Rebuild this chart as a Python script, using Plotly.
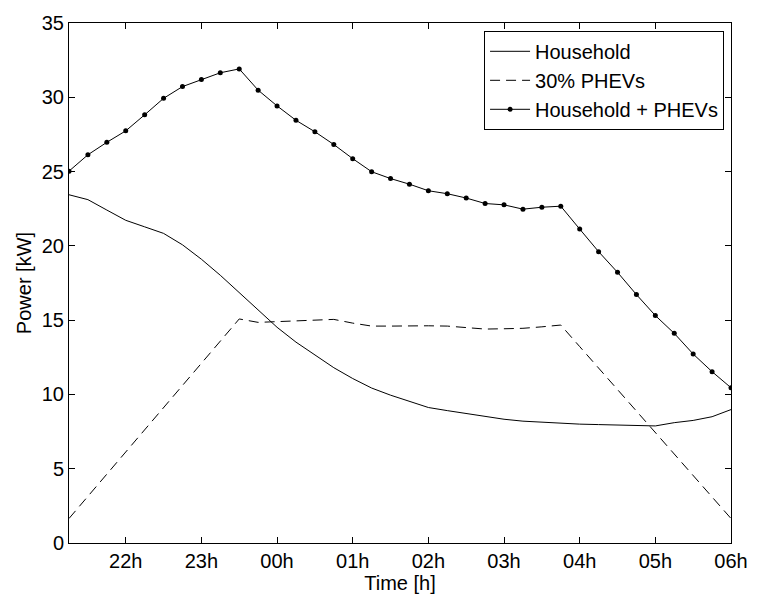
import plotly.graph_objects as go
from datetime import datetime

# 15-minute time stamps from 21:15 to 06:00
times = ["21:15", "21:30", "21:45", "22:00", "22:15", "22:30", "22:45", "23:00",
         "23:15", "23:30", "23:45", "00:00", "00:15", "00:30", "00:45", "01:00",
         "01:15", "01:30", "01:45", "02:00", "02:15", "02:30", "02:45", "03:00",
         "03:15", "03:30", "03:45", "04:00", "04:15", "04:30", "04:45", "05:00",
         "05:15", "05:30", "05:45", "06:00"]

household = [23.44, 23.11, 22.41, 21.72, 21.28, 20.84, 20.07, 19.10, 18.02, 16.85,
             15.63, 14.52, 13.52, 12.68, 11.80, 11.07, 10.43, 9.95, 9.53, 9.12,
             8.91, 8.72, 8.50, 8.33, 8.20, 8.12, 8.05, 8.00, 7.97, 7.94,
             7.90, 7.88, 8.10, 8.25, 8.50, 8.98]

phev = [1.65, 3.14, 4.63, 6.13, 7.62, 9.11, 10.60, 12.10, 13.59, 15.08,
        14.85, 14.90, 14.95, 15.00, 15.05, 14.80, 14.60, 14.60, 14.62, 14.62,
        14.60, 14.50, 14.40, 14.42, 14.45, 14.55, 14.67, 13.22, 11.78, 10.33,
        8.88, 7.44, 5.99, 4.54, 3.09, 1.65]

total = [25.03, 26.13, 26.97, 27.74, 28.82, 29.93, 30.72, 31.20, 31.65, 31.91,
         30.48, 29.42, 28.45, 27.68, 26.82, 25.87, 24.99, 24.53, 24.15, 23.71,
         23.51, 23.22, 22.85, 22.76, 22.47, 22.60, 22.67, 21.13, 19.61, 18.22,
         16.72, 15.31, 14.11, 12.72, 11.53, 10.45]

tick_hours = [22, 23, 0, 1, 2, 3, 4, 5, 6]
tick_labels = ["22h", "23h", "00h", "01h", "02h", "03h", "04h", "05h", "06h"]


def to_dt(s):
    h, m = map(int, s.split(":"))
    day = 1 if h >= 12 else 2
    return datetime(2000, 1, day, h, m)


x = [to_dt(t) for t in times]
tickvals = [datetime(2000, 1, 1 if h >= 12 else 2, h, 0) for h in tick_hours]

FONT = "Liberation Sans, Arial, sans-serif"
FS = 20

fig = go.Figure()
fig.add_trace(go.Scatter(x=x, y=household, mode="lines", name="Household",
                         line=dict(color="black", width=1)))
fig.add_trace(go.Scatter(x=x, y=phev, mode="lines", name="30% PHEVs",
                         line=dict(color="black", width=1, dash="10px,6px")))
fig.add_trace(go.Scatter(x=x, y=total, mode="lines+markers", name="Household + PHEVs",
                         line=dict(color="black", width=1),
                         marker=dict(color="black", size=5)))

axis_common = dict(showline=True, linecolor="black", linewidth=1, mirror="ticks",
                   ticks="inside", ticklen=6, tickcolor="black", tickwidth=1,
                   showgrid=False, zeroline=False,
                   tickfont=dict(family=FONT, size=FS, color="black"))

fig.update_xaxes(range=[x[0], x[-1]], tickvals=tickvals, ticktext=tick_labels,
                 title=dict(text="Time [h]", font=dict(family=FONT, size=FS, color="black"),
                            standoff=0),
                 **axis_common)
fig.update_yaxes(range=[0, 35], dtick=5, tick0=0,
                 title=dict(text="Power [kW]", font=dict(family=FONT, size=FS, color="black"),
                            standoff=4),
                 **axis_common)

fig.update_layout(
    width=760, height=598,
    margin=dict(l=69, r=22, t=16, b=53),
    paper_bgcolor="white", plot_bgcolor="white",
    font=dict(family=FONT, size=FS, color="black"),
    showlegend=True,
    legend=dict(x=0.9895, y=0.985, xanchor="right", yanchor="top",
                bgcolor="white", bordercolor="black", borderwidth=1,
                font=dict(family=FONT, size=FS, color="black"),
                tracegroupgap=0, itemwidth=40),
)

fig.write_html("out.html")
